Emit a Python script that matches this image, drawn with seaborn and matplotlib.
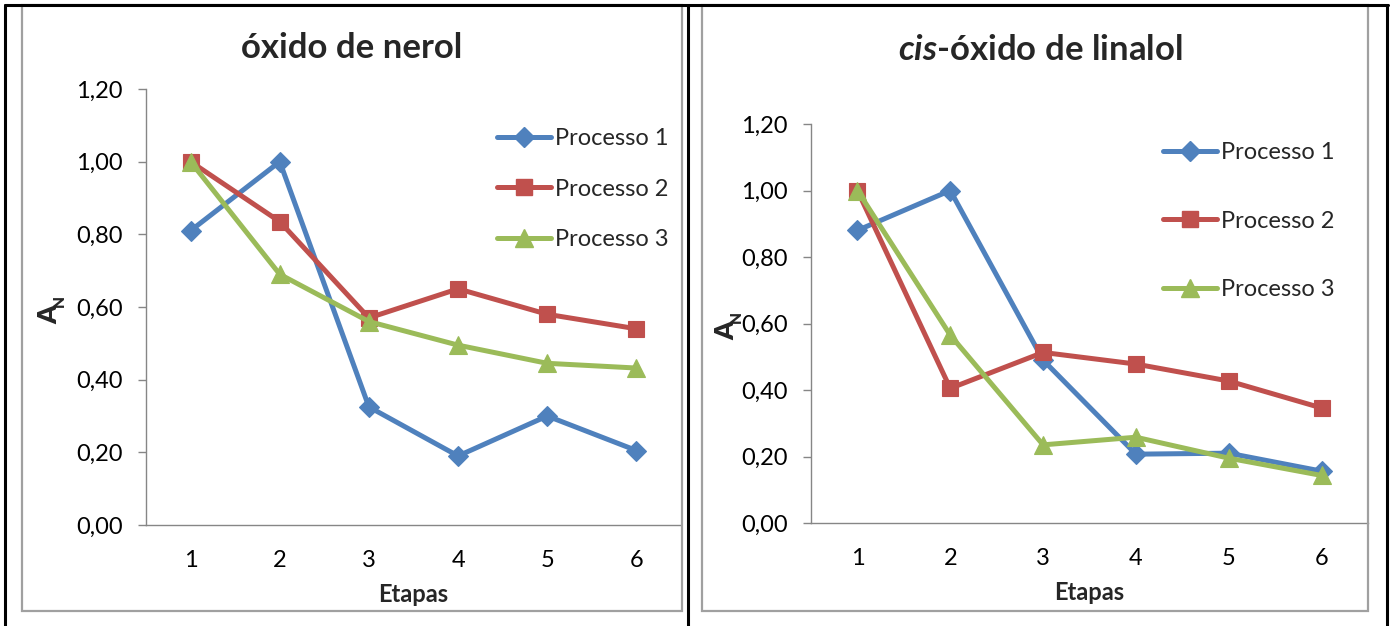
import numpy as np
import pandas as pd
import matplotlib
matplotlib.use("Agg")
import matplotlib.pyplot as plt
from matplotlib.lines import Line2D
from matplotlib.patches import Rectangle
from matplotlib.ticker import FixedLocator, FuncFormatter
import seaborn as sns

# Etapas (stages) and normalised areas A_N per process
etapas = [1, 2, 3, 4, 5, 6]
processos = ["Processo 1", "Processo 2", "Processo 3"]

nerol_p1 = [0.81, 1.00, 0.325, 0.19, 0.30, 0.205]
nerol_p2 = [1.00, 0.835, 0.57, 0.65, 0.58, 0.54]
nerol_p3 = [1.00, 0.69, 0.56, 0.495, 0.445, 0.432]

linalol_p1 = [0.88, 1.00, 0.49, 0.207, 0.21, 0.156]
linalol_p2 = [1.00, 0.405, 0.513, 0.478, 0.427, 0.346]
linalol_p3 = [1.00, 0.565, 0.235, 0.258, 0.195, 0.143]

y_ticks = [0.0, 0.2, 0.4, 0.6, 0.8, 1.0, 1.2]

cores = ["#4F81BD", "#C0504D", "#9BBB59"]
marcadores = ["D", "s", "^"]
tam_marcador = [10.5, 12, 13]
espessura = 3.6

sns.set_theme(style="white")
plt.rcParams["font.family"] = ["Lato", "DejaVu Sans"]
plt.rcParams["mathtext.fontset"] = "custom"
plt.rcParams["mathtext.rm"] = "Lato"
plt.rcParams["mathtext.bf"] = "Lato:bold"
plt.rcParams["mathtext.it"] = "Lato:italic"
try:
    plt.rcParams["mathtext.bfit"] = "Lato:italic:bold"
except KeyError:
    pass

W, H = 1393, 626
fig = plt.figure(figsize=(W / 100, H / 100), dpi=100)
fig.patch.set_facecolor("white")


def fx(px):
    return px / W


def fy(py):
    return 1 - py / H


def longo(series):
    rows = []
    for nome, vals in zip(processos, series):
        for e, v in zip(etapas, vals):
            rows.append({"Etapas": e, "valor": v, "Processo": nome})
    return pd.DataFrame(rows)


def painel(rect, series, ylabel_px, leg_anchor, leg_spacing):
    ax = fig.add_axes(rect)
    df = longo(series)
    sns.lineplot(data=df, x="Etapas", y="valor", hue="Processo", style="Processo",
                 palette=cores, markers=marcadores, dashes=False,
                 linewidth=espessura, legend=False, ax=ax)
    for ln, c, ms in zip(ax.lines, cores, tam_marcador):
        ln.set_markersize(ms)
        ln.set_markeredgecolor(c)
        ln.set_markerfacecolor(c)
        ln.set_markeredgewidth(0.8)
        ln.set_solid_capstyle("round")
        ln.set_solid_joinstyle("round")
        ln.set_clip_on(False)

    ax.set_xlim(0.5, 6.5)
    ax.set_ylim(0, 1.2)
    ax.set_facecolor("none")
    for s in ["top", "right"]:
        ax.spines[s].set_visible(False)
    for s in ["left", "bottom"]:
        ax.spines[s].set_color("#868686")
        ax.spines[s].set_linewidth(1.0)

    ax.set_yticks(y_ticks)
    ax.yaxis.set_major_formatter(FuncFormatter(lambda v, p: f"{v:.2f}".replace(".", ",")))
    ax.set_xticks(etapas)
    ax.xaxis.set_minor_locator(FixedLocator(np.arange(0.5, 7.0, 1.0)))
    ax.tick_params(axis="x", which="major", length=0, pad=18, labelsize=17, colors="black")
    ax.tick_params(axis="x", which="minor", length=6, width=1.0, color="#868686", direction="out")
    ax.tick_params(axis="y", which="major", length=6, width=1.0, color="#868686",
                   direction="out", pad=11, labelsize=17, labelcolor="black", left=True)

    ax.set_xlabel("Etapas", fontsize=17, fontweight="bold", labelpad=9)
    ax.set_ylabel("")

    # A_N axis title, drawn as a bold letter with a bold subscript
    x_px, y_px = ylabel_px
    fig.text(fx(x_px), fy(y_px), "A", rotation=90, ha="center", va="center",
             fontsize=19, fontweight="heavy")
    fig.text(fx(x_px + 10), fy(y_px - 14), "N", rotation=90, ha="center", va="center",
             fontsize=11, fontweight="heavy")

    handles = [Line2D([0], [0], color=c, marker=m, markersize=ms, linewidth=espessura,
                      markeredgecolor=c, solid_capstyle="round")
               for c, m, ms in zip(cores, marcadores, tam_marcador)]
    ax.legend(handles, processos, loc="center left", bbox_to_anchor=leg_anchor,
              bbox_transform=fig.transFigure, frameon=False, fontsize=17,
              handlelength=2.3, handletextpad=0.15, labelspacing=leg_spacing,
              borderpad=0, borderaxespad=0, numpoints=1)
    return ax


# left panel: óxido de nerol
ax1 = painel([fx(146), fy(525), fx(681) - fx(146), fy(89) - fy(525)],
             [nerol_p1, nerol_p2, nerol_p3],
             (49, 315), (fx(497), fy(189)), 1.25)
fig.text(fx(352), fy(48), "óxido de nerol", ha="center", va="center",
         fontsize=25, fontweight="bold")

# right panel: cis-óxido de linalol
ax2 = painel([fx(811), fy(523), fx(1368) - fx(811), fy(124) - fy(523)],
             [linalol_p1, linalol_p2, linalol_p3],
             (726, 331), (fx(1163), fy(221)), 2.02)
fig.text(fx(1040), fy(50), r"$\mathbfit{cis}$-óxido de linalol", ha="center", va="center",
         fontsize=25, fontweight="bold")

# chart frames
for x0, x1 in [(22, 682), (702, 1368)]:
    fig.patches.append(Rectangle((fx(x0), fy(611)), fx(x1) - fx(x0), fy(5) - fy(611),
                                 transform=fig.transFigure, fill=False,
                                 edgecolor="#A0A0A0", linewidth=1.6, zorder=0))

# table borders
for xs, ys in [([5, 1388], [5, 5]), ([5, 5], [5, 626]), ([688, 688], [5, 626]),
               ([1387, 1387], [5, 626])]:
    fig.add_artist(Line2D([fx(x) for x in xs], [fy(y) for y in ys], color="black",
                          linewidth=2.2, transform=fig.transFigure))

fig.savefig("out.png", dpi=100, facecolor="white")
